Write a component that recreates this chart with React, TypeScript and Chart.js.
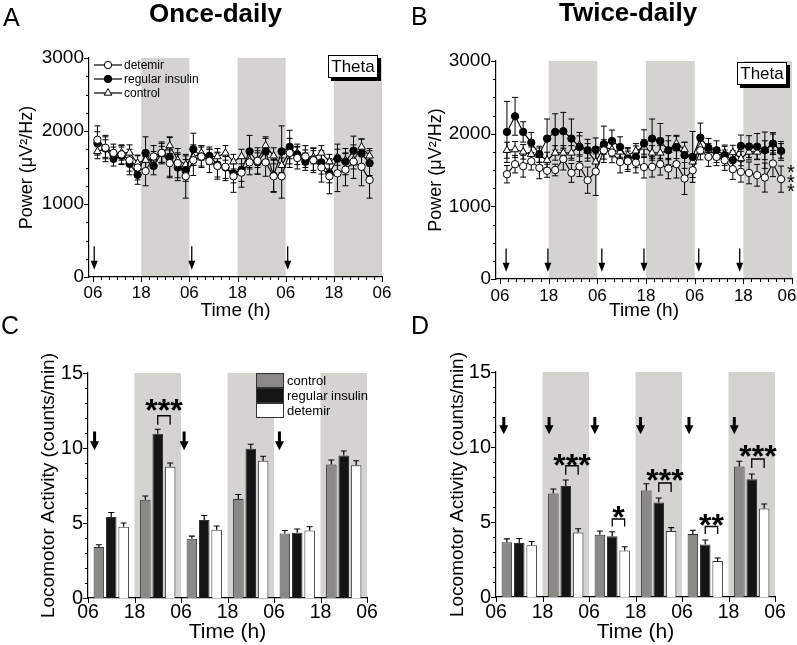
import React, { useEffect, useRef } from 'react';
import { Chart, registerables } from 'chart.js';

Chart.register(...registerables);

const FONT = '"Liberation Sans", Arial, Helvetica, sans-serif';
Chart.defaults.font.family = FONT;
Chart.defaults.color = '#000';

// ---------- shared axis data ----------
const timeTickValues = [0, 12, 24, 36, 48, 60, 72];
const timeTickLabels = ['06', '18', '06', '18', '06', '18', '06'];
const nightPeriods = [[12, 24], [36, 48], [60, 72]];

// ---------- Panel A: once-daily theta power ----------
const onceHours = [1.1, 3.1, 5.1, 7.1, 9.1, 11.1, 13.1, 15.1, 17.1, 19.1, 21.1, 23.1, 25.0, 27.0, 29.0, 31.0, 33.0, 35.0, 37.0, 39.0, 41.0, 43.0, 45.0, 47.0, 49.0, 50.9, 52.9, 54.9, 56.9, 58.9, 60.9, 62.9, 64.9, 66.9, 68.9];
const onceDetemir = [1880, 1770, 1700, 1680, 1600, 1500, 1450, 1650, 1700, 1560, 1560, 1380, 1600, 1650, 1590, 1520, 1510, 1380, 1430, 1570, 1590, 1570, 1380, 1380, 1700, 1630, 1650, 1600, 1500, 1380, 1420, 1470, 1580, 1510, 1330];
const onceRegular = [1830, 1760, 1620, 1660, 1550, 1400, 1700, 1520, 1700, 1640, 1500, 1460, 1750, 1650, 1660, 1540, 1500, 1420, 1470, 1720, 1570, 1720, 1390, 1720, 1780, 1680, 1580, 1610, 1570, 1420, 1620, 1580, 1730, 1690, 1560];
const onceControl = [1720, 1760, 1690, 1700, 1700, 1560, 1600, 1620, 1680, 1800, 1600, 1540, 1640, 1700, 1650, 1650, 1700, 1580, 1650, 1600, 1600, 1800, 1660, 1530, 1720, 1700, 1640, 1640, 1700, 1580, 1640, 1600, 1600, 1780, 1660];
const onceDetemirErr = [190, 150, 120, 130, 150, 170, 200, 150, 130, 180, 200, 300, 210, 150, 160, 180, 190, 220, 200, 170, 180, 190, 220, 300, 200, 150, 150, 170, 200, 240, 250, 220, 230, 260, 250];
const onceRegularErr = [160, 180, 100, 120, 150, 130, 220, 120, 150, 280, 180, 150, 220, 130, 120, 170, 150, 130, 160, 220, 160, 180, 220, 350, 230, 140, 120, 150, 160, 130, 200, 180, 200, 200, 170];
const onceControlErr = [100, 120, 90, 100, 110, 100, 120, 100, 110, 110, 100, 120, 110, 100, 100, 110, 100, 100, 100, 120, 100, 120, 110, 100, 100, 90, 100, 90, 100, 100, 110, 100, 120, 110, 100];
const onceArrows = [0.3, 24.6, 48.5];

// ---------- Panel B: twice-daily theta power ----------
const twiceHours = [1.7, 3.7, 5.7, 7.7, 9.7, 11.6, 13.6, 15.6, 17.6, 19.6, 21.6, 23.6, 25.6, 27.6, 29.6, 31.5, 33.5, 35.5, 37.5, 39.5, 41.5, 43.5, 45.5, 47.5, 49.4, 51.4, 53.4, 55.4, 57.4, 59.4, 61.4, 63.4, 65.3, 67.3, 69.3];
const twiceDetemir = [1442, 1580, 1552, 1620, 1530, 1490, 1500, 1650, 1460, 1550, 1360, 1480, 1770, 1740, 1610, 1620, 1600, 1540, 1543, 1580, 1520, 1580, 1383, 1497, 1770, 1680, 1680, 1635, 1511, 1474, 1460, 1428, 1396, 1589, 1374];
const twiceRegular = [2024, 2239, 2024, 1877, 1717, 1932, 2024, 2033, 1932, 1817, 1772, 1781, 1854, 1900, 1817, 1658, 1681, 1863, 1932, 1900, 1772, 1817, 1703, 1680, 1946, 1804, 1772, 1703, 1635, 1831, 1822, 1822, 1772, 1864, 1763];
const twiceControl = [1772, 1781, 1750, 1717, 1703, 1635, 1735, 1735, 1735, 1840, 1763, 1612, 1817, 1781, 1749, 1703, 1763, 1817, 1735, 1735, 1772, 1864, 1781, 1612, 1817, 1772, 1703, 1726, 1740, 1658, 1749, 1749, 1772, 1864, 1763];
const twiceDetemirErr = [120, 120, 150, 120, 150, 90, 80, 150, 130, 140, 180, 330, 120, 140, 150, 140, 140, 150, 140, 150, 140, 190, 220, 100, 130, 130, 120, 140, 140, 140, 150, 150, 200, 180, 180];
const twiceRegularErr = [420, 260, 140, 140, 110, 270, 250, 260, 270, 200, 150, 160, 250, 150, 140, 150, 150, 190, 270, 240, 200, 160, 180, 350, 200, 130, 130, 140, 130, 150, 150, 180, 250, 150, 130];
const twiceControlErr = [110, 110, 100, 100, 100, 110, 100, 100, 100, 130, 100, 110, 100, 100, 90, 90, 100, 100, 100, 100, 130, 100, 100, 100, 100, 90, 100, 100, 100, 100, 110, 100, 130, 130, 100];
const twiceArrows = [1.5, 11.8, 25.1, 35.5, 49.0, 59.1];

// ---------- Panels C & D: locomotor activity (12-h periods) ----------
const periodCenters = [6, 18, 30, 42, 54, 66];
const onceBarControl = [3.4, 6.55, 3.95, 6.6, 4.3, 8.9];
const onceBarRegular = [5.4, 10.95, 5.2, 9.95, 4.35, 9.5];
const onceBarDetemir = [4.75, 8.75, 4.55, 9.15, 4.5, 8.85];
const onceBarControlErr = [0.15, 0.25, 0.17, 0.3, 0.2, 0.3];
const onceBarRegularErr = [0.3, 0.3, 0.3, 0.3, 0.25, 0.3];
const onceBarDetemirErr = [0.25, 0.25, 0.25, 0.3, 0.25, 0.3];
const onceBarArrows = [1.7, 24.8, 49.4];
const onceSig = [{ group: 1, label: '***', top: 12.15, bottom: 11.55, text: 13.0 }];

const twiceBarControl = [3.65, 6.9, 4.15, 7.1, 4.2, 8.7];
const twiceBarRegular = [3.6, 7.4, 4.05, 6.3, 3.5, 7.85];
const twiceBarDetemir = [3.45, 4.3, 3.1, 4.4, 2.4, 5.9];
const twiceBarControlErr = [0.22, 0.3, 0.25, 0.45, 0.25, 0.35];
const twiceBarRegularErr = [0.3, 0.4, 0.3, 0.3, 0.3, 0.35];
const twiceBarDetemirErr = [0.25, 0.25, 0.25, 0.22, 0.2, 0.3];
const twiceBarArrows = [2.0, 13.7, 25.5, 37.3, 49.8, 61.5];
const twiceSig = [
  { group: 1, label: '***', top: 8.75, bottom: 8.15, text: 9.3 },
  { group: 2, label: '*', top: 5.2, bottom: 4.7, text: 5.8 },
  { group: 3, label: '***', top: 7.6, bottom: 7.0, text: 8.3 },
  { group: 4, label: '**', top: 4.7, bottom: 4.2, text: 5.3 },
  { group: 5, label: '***', top: 9.2, bottom: 8.6, text: 9.85 },
];

// ---------- styles ----------
const SHADE = '#d4d3cf';
const CONTROL_GRAY = '#8b8985';
const INSULIN_BLACK = '#141414';
const BAR_BORDER = '#333333';
const PAGE_W = 797;

function drawMarker(ctx: any, kind: string, x: number, y: number) {
  ctx.save();
  ctx.lineWidth = 1;
  ctx.strokeStyle = '#000';
  ctx.beginPath();
  if (kind === 'triangle') {
    const r = 4.4;
    ctx.moveTo(x, y - r);
    ctx.lineTo(x + r * 0.866, y + r * 0.5);
    ctx.lineTo(x - r * 0.866, y + r * 0.5);
    ctx.closePath();
    ctx.fillStyle = '#fff';
  } else {
    ctx.arc(x, y, 3.7, 0, Math.PI * 2);
    ctx.fillStyle = kind === 'filled' ? '#000' : '#fff';
  }
  ctx.fill();
  ctx.stroke();
  ctx.restore();
}

function thinArrow(ctx: any, px: number, yTop: number, yTip: number) {
  ctx.save();
  ctx.strokeStyle = '#000';
  ctx.fillStyle = '#000';
  ctx.lineWidth = 1.3;
  ctx.beginPath();
  ctx.moveTo(px, yTop);
  ctx.lineTo(px, yTip - 6);
  ctx.stroke();
  ctx.beginPath();
  ctx.moveTo(px - 3.5, yTip - 9);
  ctx.lineTo(px + 3.5, yTip - 9);
  ctx.lineTo(px, yTip);
  ctx.closePath();
  ctx.fill();
  ctx.restore();
}

function thickArrow(ctx: any, px: number, yTop: number, yTip: number) {
  ctx.save();
  ctx.fillStyle = '#000';
  const headLen = 9;
  const headW = 9;
  const shaftW = 3;
  ctx.fillRect(px - shaftW / 2, yTop, shaftW, yTip - headLen - yTop + 1);
  ctx.beginPath();
  ctx.moveTo(px - headW / 2, yTip - headLen);
  ctx.lineTo(px + headW / 2, yTip - headLen);
  ctx.lineTo(px, yTip);
  ctx.closePath();
  ctx.fill();
  ctx.restore();
}

function makeDecor(cfg: any) {
  return {
    id: 'decor',
    beforeDraw(chart: any) {
      const { ctx, chartArea: a, scales } = chart;
      const x = scales.x;
      ctx.save();
      ctx.fillStyle = SHADE;
      for (const [s, e] of nightPeriods) {
        const x0 = x.getPixelForValue(s);
        const x1 = x.getPixelForValue(e);
        ctx.fillRect(x0, a.top, x1 - x0, a.bottom - a.top);
      }
      ctx.restore();
    },
    beforeDatasetsDraw(chart: any) {
      if (cfg.kind !== 'line') return;
      const { ctx, scales } = chart;
      const y = scales.y;
      ctx.save();
      ctx.strokeStyle = '#000';
      ctx.lineWidth = 1;
      chart.data.datasets.forEach((ds: any, di: number) => {
        const meta = chart.getDatasetMeta(di);
        const errs = cfg.errors[di];
        ds.data.forEach((pt: any, i: number) => {
          const el = meta.data[i];
          const e = errs[i];
          const yt = y.getPixelForValue(pt.y + e);
          const yb = y.getPixelForValue(pt.y - e);
          ctx.beginPath();
          ctx.moveTo(el.x, yt);
          ctx.lineTo(el.x, yb);
          ctx.moveTo(el.x - 3, yt);
          ctx.lineTo(el.x + 3, yt);
          ctx.moveTo(el.x - 3, yb);
          ctx.lineTo(el.x + 3, yb);
          ctx.stroke();
        });
      });
      ctx.restore();
    },
    afterDatasetsDraw(chart: any) {
      const { ctx, chartArea: a, scales } = chart;
      const x = scales.x;
      const y = scales.y;
      ctx.save();
      if (cfg.kind === 'bar') {
        ctx.strokeStyle = '#000';
        ctx.lineWidth = 1.2;
        chart.data.datasets.forEach((ds: any, di: number) => {
          const meta = chart.getDatasetMeta(di);
          ds.data.forEach((pt: any, i: number) => {
            const el = meta.data[i];
            const y0 = y.getPixelForValue(pt.y);
            const y1 = y.getPixelForValue(pt.y + cfg.errors[di][i]);
            ctx.beginPath();
            ctx.moveTo(el.x, y0);
            ctx.lineTo(el.x, y1);
            ctx.moveTo(el.x - 3, y1);
            ctx.lineTo(el.x + 3, y1);
            ctx.stroke();
          });
        });
        for (const h of cfg.arrows) {
          thickArrow(ctx, x.getPixelForValue(h), y.getPixelForValue(cfg.arrowTop), y.getPixelForValue(cfg.arrowTip));
        }
        const mReg = chart.getDatasetMeta(1);
        const mDet = chart.getDatasetMeta(2);
        for (const s of cfg.sig) {
          const x1 = mReg.data[s.group].x;
          const x2 = mDet.data[s.group].x;
          const yt = y.getPixelForValue(s.top);
          const yb = y.getPixelForValue(s.bottom);
          ctx.strokeStyle = '#000';
          ctx.lineWidth = 1.3;
          ctx.beginPath();
          ctx.moveTo(x1, yb);
          ctx.lineTo(x1, yt);
          ctx.lineTo(x2, yt);
          ctx.lineTo(x2, yb);
          ctx.stroke();
          ctx.fillStyle = '#000';
          ctx.font = 'bold 32px ' + FONT;
          ctx.textAlign = 'center';
          ctx.textBaseline = 'alphabetic';
          ctx.fillText(s.label, (x1 + x2) / 2, y.getPixelForValue(s.text) + 18);
        }
        if (cfg.legend) {
          const lx = a.left + cfg.legend.dx;
          let ly = a.top + cfg.legend.dy;
          const items = [
            { label: 'control', fill: CONTROL_GRAY },
            { label: 'regular insulin', fill: INSULIN_BLACK },
            { label: 'detemir', fill: '#ffffff' },
          ];
          ctx.font = '13px ' + FONT;
          ctx.textAlign = 'left';
          ctx.textBaseline = 'middle';
          for (const it of items) {
            ctx.fillStyle = it.fill;
            ctx.fillRect(lx, ly, 28, 15);
            ctx.strokeStyle = BAR_BORDER;
            ctx.lineWidth = 1;
            ctx.strokeRect(lx + 0.5, ly + 0.5, 27, 14);
            ctx.fillStyle = '#000';
            ctx.fillText(it.label, lx + 31, ly + 8);
            ly += 15;
          }
        }
      } else {
        for (const h of cfg.arrows) {
          thinArrow(ctx, x.getPixelForValue(h), y.getPixelForValue(cfg.arrowTop), y.getPixelForValue(cfg.arrowTip));
        }
        const bw = 50;
        const bh = 23;
        const bl = a.right + cfg.theta.dxRight - bw;
        const bt = a.top + cfg.theta.dy;
        ctx.fillStyle = '#000';
        ctx.fillRect(bl + 3, bt + 3, bw, bh);
        ctx.fillStyle = '#fff';
        ctx.fillRect(bl, bt, bw, bh);
        ctx.strokeStyle = '#000';
        ctx.lineWidth = 1;
        ctx.strokeRect(bl + 0.5, bt + 0.5, bw - 1, bh - 1);
        ctx.fillStyle = '#000';
        ctx.font = '17px ' + FONT;
        ctx.textAlign = 'center';
        ctx.textBaseline = 'middle';
        ctx.fillText('Theta', bl + bw / 2, bt + bh / 2 + 1);
        if (cfg.legend) {
          const items = [
            { label: 'detemir', kind: 'open' },
            { label: 'regular insulin', kind: 'filled' },
            { label: 'control', kind: 'triangle' },
          ];
          ctx.font = '12px ' + FONT;
          ctx.textAlign = 'left';
          ctx.textBaseline = 'middle';
          items.forEach((it, i) => {
            const ly = a.top + cfg.legend.dy + i * 14;
            const lx = a.left + cfg.legend.dx;
            ctx.strokeStyle = '#000';
            ctx.lineWidth = 1.2;
            ctx.beginPath();
            ctx.moveTo(lx, ly);
            ctx.lineTo(lx + 28, ly);
            ctx.stroke();
            drawMarker(ctx, it.kind, lx + 14, ly);
            ctx.fillStyle = '#000';
            ctx.fillText(it.label, lx + 30, ly + 1);
          });
        }
        if (cfg.sideStars) {
          ctx.font = '20px ' + FONT;
          ctx.textAlign = 'center';
          ctx.textBaseline = 'alphabetic';
          ctx.fillStyle = '#000';
          for (let i = 0; i < 3; i++) {
            ctx.fillText('*', a.right - 1, a.top + 107 + i * 9.5 + 11.4);
          }
        }
      }
      ctx.restore();
    },
    afterDraw(chart: any) {
      const { ctx, chartArea: a, scales } = chart;
      const x = scales.x;
      const y = scales.y;
      ctx.save();
      ctx.strokeStyle = '#000';
      ctx.lineWidth = 1;
      for (let v = 0; v <= 72 + 1e-9; v += cfg.xMinor) {
        const r = v / 12;
        const major = Math.abs(r - Math.round(r)) < 1e-6;
        const len = major ? 5 : 3;
        const px = Math.round(x.getPixelForValue(v)) + 0.5;
        ctx.beginPath();
        ctx.moveTo(px, a.bottom);
        ctx.lineTo(px, a.bottom + len);
        ctx.stroke();
      }
      for (let v = 0; v <= cfg.yMax + 1e-9; v += cfg.yMinor) {
        const r = v / cfg.yMajor;
        const major = Math.abs(r - Math.round(r)) < 1e-6;
        const len = major ? 5 : 3;
        const py = Math.round(y.getPixelForValue(v)) + 0.5;
        ctx.beginPath();
        ctx.moveTo(a.left, py);
        ctx.lineTo(a.left - len, py);
        ctx.stroke();
      }
      // x tick labels (kept inside the visible page)
      ctx.fillStyle = '#000';
      ctx.font = cfg.xLabelSize + 'px ' + FONT;
      ctx.textAlign = 'center';
      ctx.textBaseline = 'middle';
      timeTickValues.forEach((v, i) => {
        const lbl = timeTickLabels[i];
        const half = ctx.measureText(lbl).width / 2;
        let px = x.getPixelForValue(v);
        px = Math.min(px, cfg.maxRight - half - 0.5);
        ctx.fillText(lbl, px, a.bottom + cfg.xLabelDy);
      });
      ctx.restore();
    },
  };
}

function buildScales(p: any) {
  return {
    x: {
      type: 'linear',
      min: p.xMin,
      max: 72,
      offset: false,
      ticks: { display: false },
      grid: { display: false, drawTicks: false, offset: false },
      border: { display: true, color: '#000', width: 1.2 },
      title: { display: true, text: 'Time (h)', color: '#000', font: { size: p.xTitleSize }, padding: { top: 0, bottom: 0 } },
      afterFit: (s: any) => { s.height = p.xAxisH; },
    },
    y: {
      type: 'linear',
      min: 0,
      max: p.yMax,
      ticks: { stepSize: p.yMajor, color: '#000', font: { size: p.yTickSize }, padding: 1, callback: (v: any) => String(v) },
      grid: { display: false, drawTicks: true, tickLength: 4 },
      border: { display: true, color: '#000', width: 1.2 },
      title: { display: true, text: p.yTitle, color: '#000', font: { size: p.yTitleSize }, padding: { top: p.yTitlePad, bottom: 0 } },
      afterFit: (s: any) => { s.width = p.yAxisW; },
    },
  };
}

function lineConfig(p: any) {
  const mk = (label: string, vals: number[], kind: string) => ({
    label,
    data: p.hours.map((h: number, i: number) => ({ x: h, y: vals[i] })),
    borderColor: '#000',
    borderWidth: 1.1,
    pointStyle: kind === 'triangle' ? 'triangle' : 'circle',
    pointRadius: kind === 'triangle' ? 4.4 : 3.7,
    pointBackgroundColor: kind === 'filled' ? '#000' : '#fff',
    pointBorderColor: '#000',
    pointBorderWidth: 1,
    tension: 0,
  });
  return {
    type: 'line',
    data: {
      datasets: [
        mk('detemir', p.detemir, 'open'),
        mk('regular insulin', p.regular, 'filled'),
        mk('control', p.control, 'triangle'),
      ],
    },
    options: {
      animation: false,
      responsive: true,
      maintainAspectRatio: false,
      events: [],
      layout: { padding: { left: 0, top: p.padTop, right: p.padRight, bottom: 0 } },
      plugins: { legend: { display: false }, tooltip: { enabled: false } },
      scales: buildScales({ ...p, xMin: -1, yMax: 3000, yMajor: 1000, yTitle: 'Power (μV²/Hz)' }),
    },
    plugins: [makeDecor({
      kind: 'line',
      errors: [p.detemirErr, p.regularErr, p.controlErr],
      arrows: p.arrows,
      arrowTop: 420,
      arrowTip: 100,
      theta: p.theta,
      legend: p.legend,
      sideStars: p.sideStars,
      xMinor: 2,
      yMinor: 250,
      yMajor: 1000,
      yMax: 3000,
      xLabelSize: p.xTickSize,
      xLabelDy: p.xLabelDy,
      maxRight: p.maxRight,
    })],
  };
}

function barConfig(p: any) {
  const mk = (label: string, vals: number[], fill: string) => ({
    label,
    data: periodCenters.map((c, i) => ({ x: c, y: vals[i] })),
    backgroundColor: fill,
    borderColor: BAR_BORDER,
    borderWidth: 1,
    categoryPercentage: 0.8,
    barPercentage: 0.85,
  });
  return {
    type: 'bar',
    data: {
      datasets: [
        mk('control', p.control, CONTROL_GRAY),
        mk('regular insulin', p.regular, INSULIN_BLACK),
        mk('detemir', p.detemir, '#ffffff'),
      ],
    },
    options: {
      animation: false,
      responsive: true,
      maintainAspectRatio: false,
      events: [],
      layout: { padding: { left: 0, top: p.padTop, right: p.padRight, bottom: 0 } },
      plugins: { legend: { display: false }, tooltip: { enabled: false } },
      scales: buildScales({ ...p, xMin: 0, yMax: 15, yMajor: 5, yTitle: 'Locomotor Activity (counts/min)' }),
    },
    plugins: [makeDecor({
      kind: 'bar',
      errors: [p.controlErr, p.regularErr, p.detemirErr],
      arrows: p.arrows,
      arrowTop: p.arrowTop,
      arrowTip: p.arrowTip,
      sig: p.sig,
      legend: p.legend,
      xMinor: 12,
      yMinor: 1,
      yMajor: 5,
      yMax: 15,
      xLabelSize: p.xTickSize,
      xLabelDy: p.xLabelDy,
      maxRight: p.maxRight,
    })],
  };
}

function ChartBox(props: { left: number; top: number; width: number; height: number; make: () => any }) {
  const ref = useRef<HTMLCanvasElement>(null);
  useEffect(() => {
    const chart = new Chart(ref.current as HTMLCanvasElement, props.make());
    return () => chart.destroy();
  }, []);
  return (
    <div style={{ position: 'absolute', left: props.left, top: props.top, width: props.width, height: props.height }}>
      <canvas ref={ref} style={{ display: 'block' }} />
    </div>
  );
}

const lineText = { xTickSize: 17, xTitleSize: 19, yTickSize: 19, yTitleSize: 18 };
const barText = { xTickSize: 19.5, xTitleSize: 21, yTickSize: 20, yTitleSize: 19 };

const makeA = () => lineConfig({
  ...lineText,
  hours: onceHours, detemir: onceDetemir, regular: onceRegular, control: onceControl,
  detemirErr: onceDetemirErr, regularErr: onceRegularErr, controlErr: onceControlErr,
  arrows: onceArrows,
  padTop: 58, padRight: 16, yAxisW: 89, xAxisH: 45, yTitlePad: 16,
  xLabelDy: 16, maxRight: PAGE_W - 0,
  theta: { dxRight: -4, dy: -3 },
  legend: { dx: 5, dy: 7 },
  sideStars: false,
});

const makeB = () => lineConfig({
  ...lineText,
  hours: twiceHours, detemir: twiceDetemir, regular: twiceRegular, control: twiceControl,
  detemirErr: twiceDetemirErr, regularErr: twiceRegularErr, controlErr: twiceControlErr,
  arrows: twiceArrows,
  padTop: 61, padRight: 11, yAxisW: 98, xAxisH: 43, yTitlePad: 27,
  xLabelDy: 17, maxRight: PAGE_W - 398,
  theta: { dxRight: -5, dy: 1 },
  legend: null,
  sideStars: true,
});

const makeC = () => barConfig({
  ...barText,
  control: onceBarControl, regular: onceBarRegular, detemir: onceBarDetemir,
  controlErr: onceBarControlErr, regularErr: onceBarRegularErr, detemirErr: onceBarDetemirErr,
  arrows: onceBarArrows, arrowTop: 11.1, arrowTip: 9.85,
  sig: onceSig,
  legend: { dx: 168, dy: 0 },
  padTop: 51, padRight: 31, yAxisW: 88, xAxisH: 47, yTitlePad: 37,
  xLabelDy: 15, maxRight: PAGE_W - 0,
});

const makeD = () => barConfig({
  ...barText,
  control: twiceBarControl, regular: twiceBarRegular, detemir: twiceBarDetemir,
  controlErr: twiceBarControlErr, regularErr: twiceBarRegularErr, detemirErr: twiceBarDetemirErr,
  arrows: twiceBarArrows, arrowTop: 12.0, arrowTip: 10.85,
  sig: twiceSig,
  legend: null,
  padTop: 50, padRight: 28, yAxisW: 98, xAxisH: 48, yTitlePad: 48,
  xLabelDy: 16, maxRight: PAGE_W - 398,
});

const letterStyle: any = { position: 'absolute', fontFamily: FONT, fontSize: 25, lineHeight: '25px', color: '#000', margin: 0 };
const titleStyle: any = { position: 'absolute', fontFamily: FONT, fontSize: 26, lineHeight: '26px', fontWeight: 'bold', color: '#000', margin: 0, whiteSpace: 'nowrap' };

export default function App() {
  return (
    <div style={{ position: 'fixed', left: 0, top: 0, width: PAGE_W, height: 645, overflow: 'hidden', background: '#fff' }}>
      <ChartBox left={0} top={0} width={398} height={322} make={makeA} />
      <ChartBox left={398} top={0} width={405} height={322} make={makeB} />
      <ChartBox left={0} top={322} width={398} height={323} make={makeC} />
      <ChartBox left={398} top={322} width={405} height={323} make={makeD} />
      <div style={{ ...letterStyle, left: 3, top: 5 }}>A</div>
      <div style={{ ...titleStyle, left: 149, top: 0 }}>Once-daily</div>
      <div style={{ ...letterStyle, left: 411, top: 4 }}>B</div>
      <div style={{ ...titleStyle, left: 559, top: -1 }}>Twice-daily</div>
      <div style={{ ...letterStyle, left: 1, top: 313 }}>C</div>
      <div style={{ ...letterStyle, left: 411, top: 313 }}>D</div>
    </div>
  );
}
